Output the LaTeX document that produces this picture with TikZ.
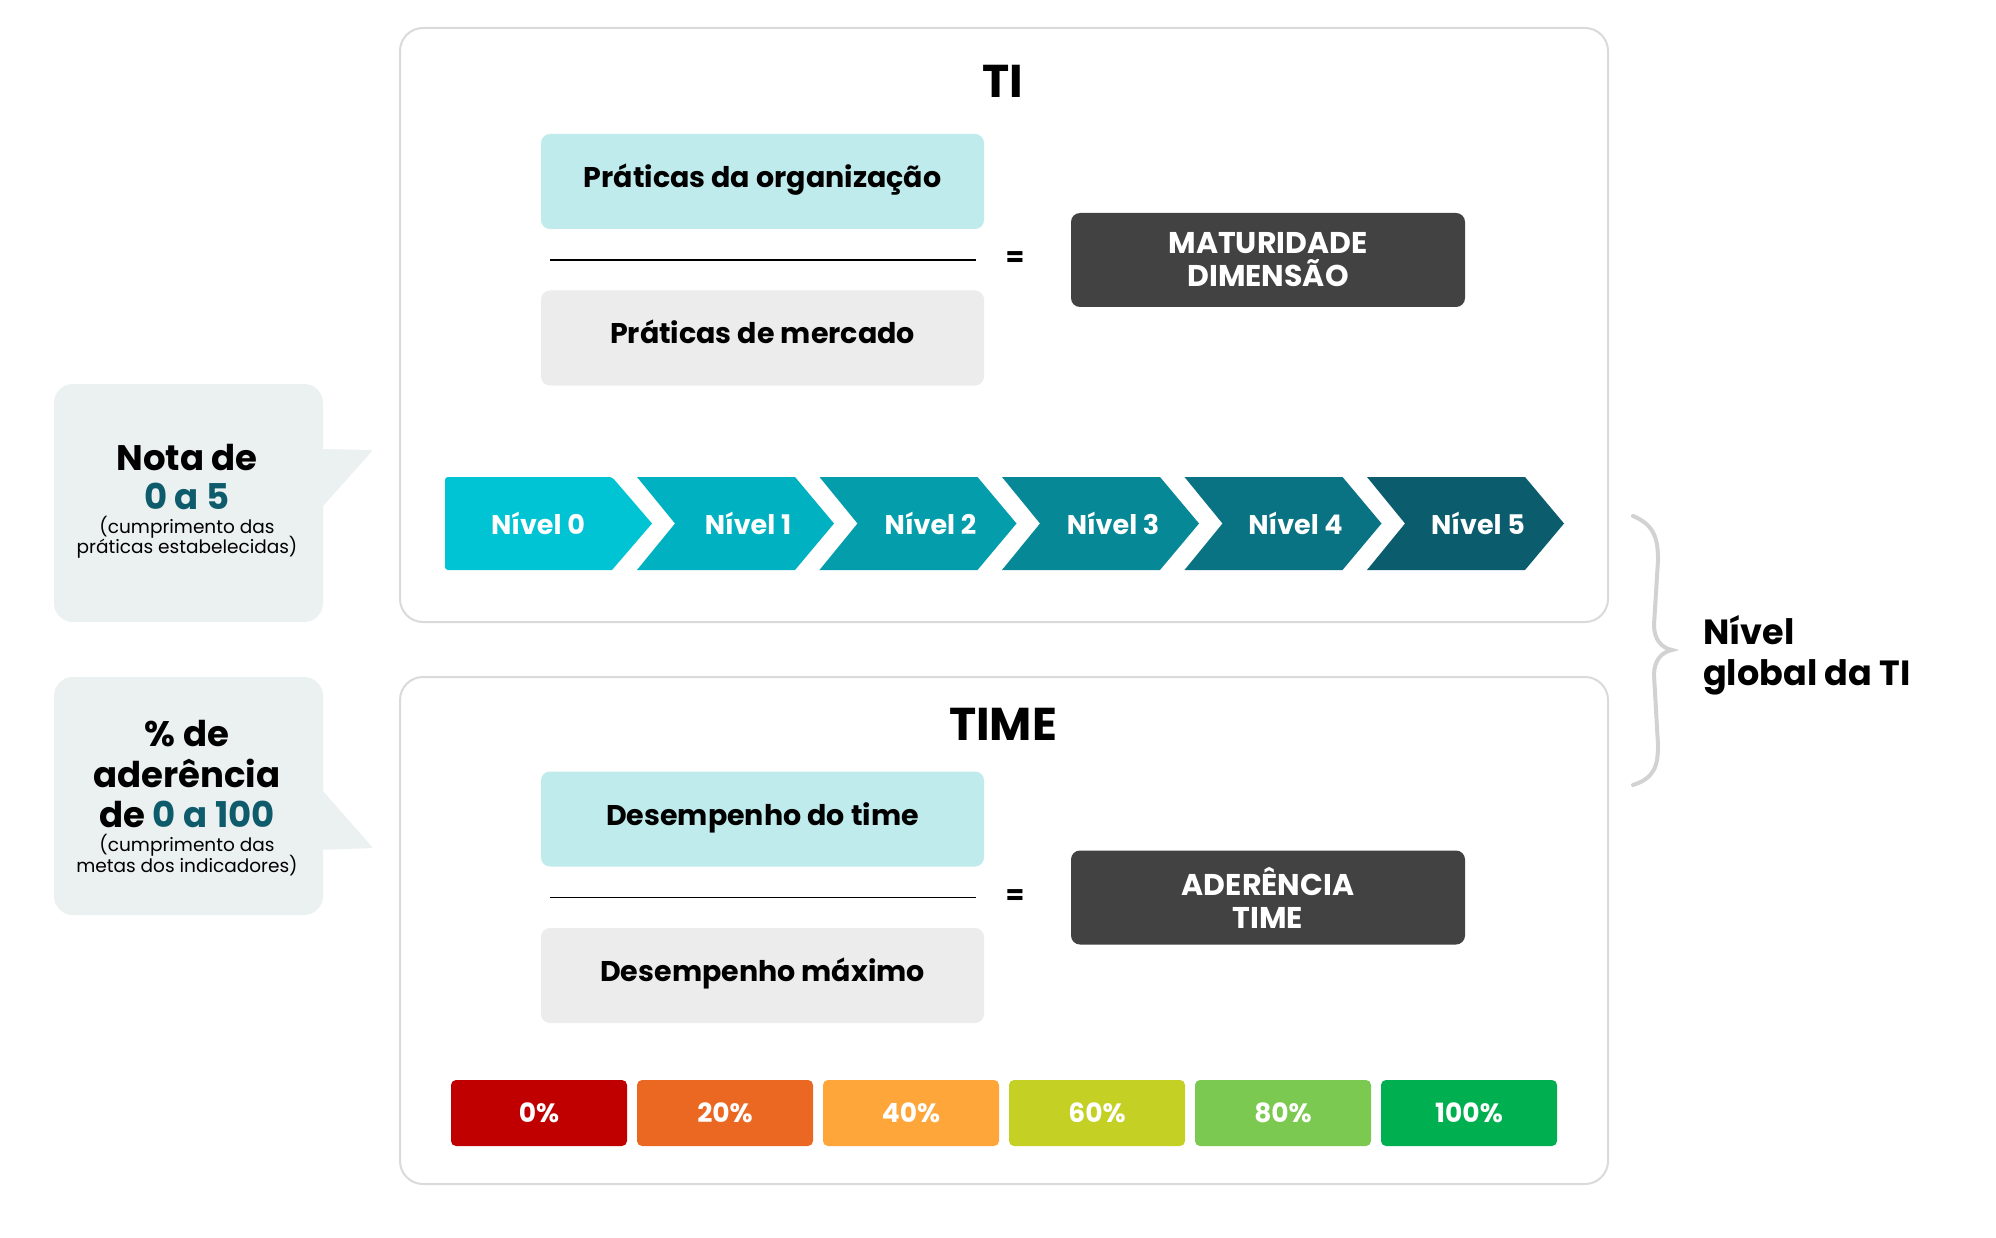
\documentclass[tikz,border=0pt]{standalone}
\usepackage{fontspec}
\setmainfont{Poppins}
\definecolor{framegray}{HTML}{DADADA}
\definecolor{cyanlight}{HTML}{BFEBEC}
\definecolor{graylight}{HTML}{ECECEC}
\definecolor{darkbox}{HTML}{424242}
\definecolor{callbg}{HTML}{EBF0F0}
\definecolor{tealtext}{HTML}{0E5B6C}
\definecolor{bracegray}{HTML}{D2D2D2}
\definecolor{nv0}{HTML}{00C4D3}
\definecolor{nv1}{HTML}{00B1C1}
\definecolor{nv2}{HTML}{039DAC}
\definecolor{nv3}{HTML}{068896}
\definecolor{nv4}{HTML}{097383}
\definecolor{nv5}{HTML}{0B5D6E}
\definecolor{pc0}{HTML}{C00000}
\definecolor{pc1}{HTML}{EB6823}
\definecolor{pc2}{HTML}{FEA63A}
\definecolor{pc3}{HTML}{C4D024}
\definecolor{pc4}{HTML}{7BC950}
\definecolor{pc5}{HTML}{00B050}
\tikzset{
  frame/.style={draw=framegray, line width=2pt, rounded corners=23pt},
  titletext/.style={font=\fontsize{46}{50}\selectfont\bfseries, inner sep=0pt},
  fracbox/.style={rounded corners=9pt, minimum width=443pt, minimum height=95pt, inner sep=0pt,
     text height=20pt, text depth=8pt,
     font=\fontsize{28.5}{32}\selectfont\bfseries, text=black},
  fracline/.style={draw=black, line width=1.6pt},
  eqsign/.style={font=\fontsize{27}{32}\selectfont\bfseries, inner sep=0pt},
  result/.style={fill=darkbox, rounded corners=9pt, minimum width=394pt, minimum height=94pt,
     inner sep=0pt, align=center, text=white, font=\fontsize{30}{33}\selectfont\bfseries},
  nivtext/.style={text=white, font=\fontsize{27}{30}\selectfont\bfseries, inner sep=0pt},
  pctbox/.style={rounded corners=5pt, minimum width=176pt, minimum height=66pt, inner sep=0pt,
     text=white, font=\fontsize{26.5}{30}\selectfont\bfseries},
  callbig/.style={font=\fontsize{35.5}{40}\selectfont\bfseries, inner sep=0pt, anchor=base},
  callsmall/.style={font=\fontsize{18.5}{21}\selectfont, inner sep=0pt, anchor=base},
  globaltext/.style={font=\fontsize{35}{41}\selectfont\bfseries, inner sep=0pt, anchor=base west}
}
\begin{document}
\begin{tikzpicture}[x=1pt,y=-1pt]
\useasboundingbox (0,0) rectangle (1996,1238);
\fill[white] (0,0) rectangle (1996,1238);

% frames
\draw[frame] (400,28) rectangle (1608,622);
\draw[frame] (400,677) rectangle (1608,1184);

% ===== TI section =====
\node[titletext] (ti) at (1003,81.5) {TI};
\node[fracbox, fill=cyanlight] (org) at (762.5,181.5) {Práticas da organização};
\node[fracbox, fill=graylight] (merc) at (762.5,338) {Práticas de mercado};
\coordinate (l1a) at (550,260);
\coordinate (l1b) at (976,260);
\draw[fracline] (l1a) -- (l1b);
\node[eqsign] (eq1) at (1015,259) {=};
\node[result] (mat) at (1268,260) {MATURIDADE\\DIMENSÃO};

% chevrons
\fill[nv0, rounded corners=3pt] (445,477) -- (612,477) [sharp corners] -- (652,523.5) -- (612,570) [rounded corners=3pt] -- (445,570) -- cycle;
\node[nivtext] (n0) at (538,523.5) {Nível 0};
\foreach \i/\c in {1/nv1,2/nv2,3/nv3,4/nv4,5/nv5}{
  \pgfmathsetmacro{\L}{637+182.5*(\i-1)}
  \fill[\c] (\L,477) -- (\L+158,477) -- (\L+197,523.5) -- (\L+158,570) -- (\L,570) -- (\L+38,523.5) -- cycle;
  \node[nivtext] (n\i) at (\L+111,523.5) {Nível \i};
}

% ===== TIME section =====
\node[titletext] (time) at (1003,724) {TIME};
\node[fracbox, fill=cyanlight] (dtime) at (762.5,819) {Desempenho do time};
\node[fracbox, fill=graylight] (dmax) at (762.5,975.5) {Desempenho máximo};
\coordinate (l2a) at (550,897.5);
\coordinate (l2b) at (976,897.5);
\draw[fracline] (l2a) -- (l2b);
\node[eqsign] (eq2) at (1015,897) {=};
\node[result] (ader) at (1268,897.5) {ADERÊNCIA\\TIME};

\foreach \i/\c/\t in {0/pc0/0\%,1/pc1/20\%,2/pc2/40\%,3/pc3/60\%,4/pc4/80\%,5/pc5/100\%}{
  \node[pctbox, fill=\c] (p\i) at (539+186*\i,1113) {\t};
}

% ===== callouts =====
\fill[callbg, rounded corners=19pt] (54,384) rectangle (323,622);
\fill[callbg, rounded corners=2pt] (315,449) -- (373,450) -- (315,515) -- cycle;
\node[callbig] (nota) at (187,470) {Nota de};
\node[callbig, text=tealtext] (nota2) at (187,509) {0 a 5};
\node[callsmall] (nota3) at (187,533) {(cumprimento das};
\node[callsmall] (nota4) at (187,553) {práticas estabelecidas)};

\fill[callbg, rounded corners=19pt] (54,677) rectangle (323,915);
\fill[callbg, rounded corners=2pt] (315,782) -- (373,848) -- (315,850) -- cycle;
\node[callbig] (ad1) at (187,746) {\% de};
\node[callbig] (ad2) at (187,787) {aderência};
\node[callbig] (ad3) at (187,827) {de \textcolor{tealtext}{0 a 100}};
\node[callsmall] (ad4) at (187,851) {(cumprimento das};
\node[callsmall] (ad5) at (187,872) {metas dos indicadores)};

% ===== brace =====
\draw[bracegray, line width=4pt, line cap=round]
  (1633,516) .. controls (1655,525) and (1658,540) .. (1658,560)
  -- (1654,625) .. controls (1654,640) and (1662,648) .. (1672,650)
  .. controls (1662,652) and (1654,660) .. (1654,675)
  -- (1658,745) .. controls (1658,765) and (1655,778) .. (1633,785);
\node[globaltext] (glob1) at (1703,644) {Nível};
\node[globaltext] (glob2) at (1703,685) {global da TI};
\end{tikzpicture}
\end{document}
